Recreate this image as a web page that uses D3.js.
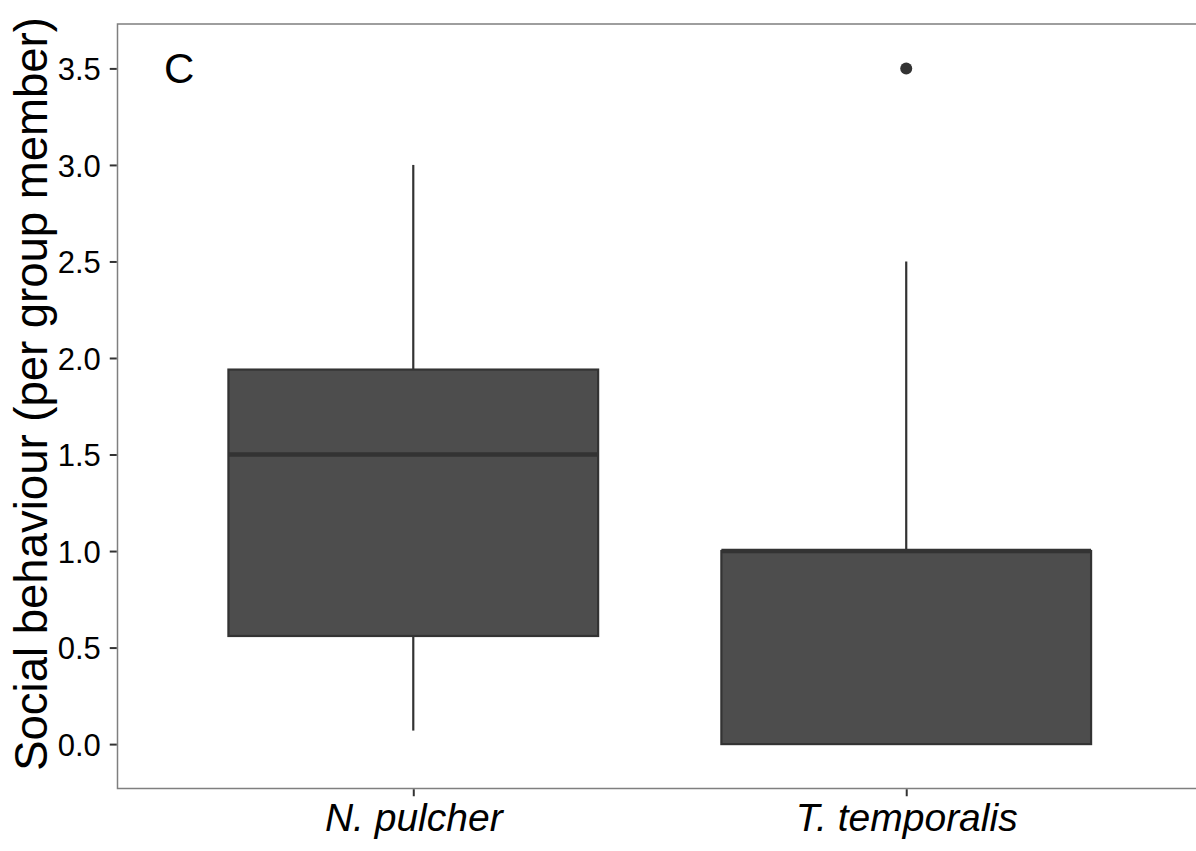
<!DOCTYPE html>
<html>
<head>
<meta charset="utf-8">
<script src="https://cdn.jsdelivr.net/npm/d3@7"></script>
<style>
  body { margin: 0; background: #fff; }
  text { font-family: "Liberation Sans", Arial, Helvetica, sans-serif; }
</style>
</head>
<body>
<svg id="chart" width="1196" height="851"></svg>
<script>
// species on the x axis
let species = ["N. pulcher", "T. temporalis"];

// box stats
let lowerWhisker = [0.07, 0.0];
let q1 = [0.56, 0.0];
let median = [1.5, 1.0];
let q3 = [1.94, 1.0];
let upperWhisker = [3.0, 2.5];

// outliers: [species index, value]
let outliers = [[1, 3.5]];

let yTicks = [0.0, 0.5, 1.0, 1.5, 2.0, 2.5, 3.0, 3.5];
let panelLabel = "C";
let yTitle = "Social behaviour (per group member)";

let svg = d3.select("#chart");

// panel area
let panelLeft = 117.5, panelTop = 24, panelBottom = 788.5, panelRight = 1202;

let x = d3.scaleLinear().domain([0.4, 2.6]).range([panelLeft, panelRight]);
let y = d3.scaleLinear().domain([-0.23, 3.73]).range([panelBottom, panelTop]);

let boxHalf = 0.375;
let dark = "#333333";

let panel = svg.append("g");

// boxes
let boxes = panel.selectAll(".box")
    .data(species)
    .enter().append("g")
    .attr("class", "box");

// whiskers
boxes.append("line")
    .attr("x1", function(d, i) { return x(i + 1); })
    .attr("x2", function(d, i) { return x(i + 1); })
    .attr("y1", function(d, i) { return y(q3[i]); })
    .attr("y2", function(d, i) { return y(upperWhisker[i]); })
    .attr("stroke", dark)
    .attr("stroke-width", 2.2);

boxes.append("line")
    .attr("x1", function(d, i) { return x(i + 1); })
    .attr("x2", function(d, i) { return x(i + 1); })
    .attr("y1", function(d, i) { return y(q1[i]); })
    .attr("y2", function(d, i) { return y(lowerWhisker[i]); })
    .attr("stroke", dark)
    .attr("stroke-width", 2.2);

boxes.append("rect")
    .attr("x", function(d, i) { return x(i + 1 - boxHalf); })
    .attr("width", function(d, i) { return x(i + 1 + boxHalf) - x(i + 1 - boxHalf); })
    .attr("y", function(d, i) { return y(q3[i]); })
    .attr("height", function(d, i) { return y(q1[i]) - y(q3[i]); })
    .attr("fill", "#4d4d4d")
    .attr("stroke", dark)
    .attr("stroke-width", 2.2);

// median
boxes.append("line")
    .attr("x1", function(d, i) { return x(i + 1 - boxHalf); })
    .attr("x2", function(d, i) { return x(i + 1 + boxHalf); })
    .attr("y1", function(d, i) { return y(median[i]); })
    .attr("y2", function(d, i) { return y(median[i]); })
    .attr("stroke", dark)
    .attr("stroke-width", 4.4);

panel.selectAll(".outlier")
    .data(outliers)
    .enter().append("circle")
    .attr("class", "outlier")
    .attr("cx", function(d) { return x(d[0] + 1); })
    .attr("cy", function(d) { return y(d[1]); })
    .attr("r", 6)
    .attr("fill", dark);

// panel border (right edge falls outside the picture)
svg.append("rect")
    .attr("x", panelLeft)
    .attr("y", panelTop)
    .attr("width", panelRight - panelLeft)
    .attr("height", panelBottom - panelTop)
    .attr("fill", "none")
    .attr("stroke", "#7f7f7f")
    .attr("stroke-width", 1.5);

// y axis
let yAxis = svg.append("g")
    .attr("transform", "translate(" + (panelLeft - 0.75) + ",0)")
    .call(d3.axisLeft(y).tickValues(yTicks).tickFormat(d3.format(".1f")).tickSize(7).tickPadding(9));
yAxis.select(".domain").remove();
yAxis.selectAll(".tick line").attr("stroke", dark).attr("stroke-width", 2);
yAxis.selectAll(".tick text")
    .attr("fill", "#000")
    .style("font-size", "31px")
    .attr("dy", "0.36em");

// x axis
let xAxis = svg.append("g")
    .attr("transform", "translate(0," + (panelBottom + 0.75) + ")")
    .call(d3.axisBottom(x).tickValues([1, 2]).tickFormat(function(d) { return species[d - 1]; }).tickSize(7).tickPadding(7));
xAxis.select(".domain").remove();
xAxis.selectAll(".tick line").attr("stroke", dark).attr("stroke-width", 2);
xAxis.selectAll(".tick text")
    .attr("fill", "#000")
    .style("font-size", "39px")
    .style("font-style", "italic");

// panel label
svg.append("text")
    .attr("x", 164)
    .attr("y", 83)
    .style("font-size", "42px")
    .attr("fill", "#000")
    .text(panelLabel);

// y title
svg.append("text")
    .attr("transform", "translate(47,394) rotate(-90)")
    .attr("text-anchor", "middle")
    .style("font-size", "45.5px")
    .attr("fill", "#000")
    .text(yTitle);
</script>
</body>
</html>
